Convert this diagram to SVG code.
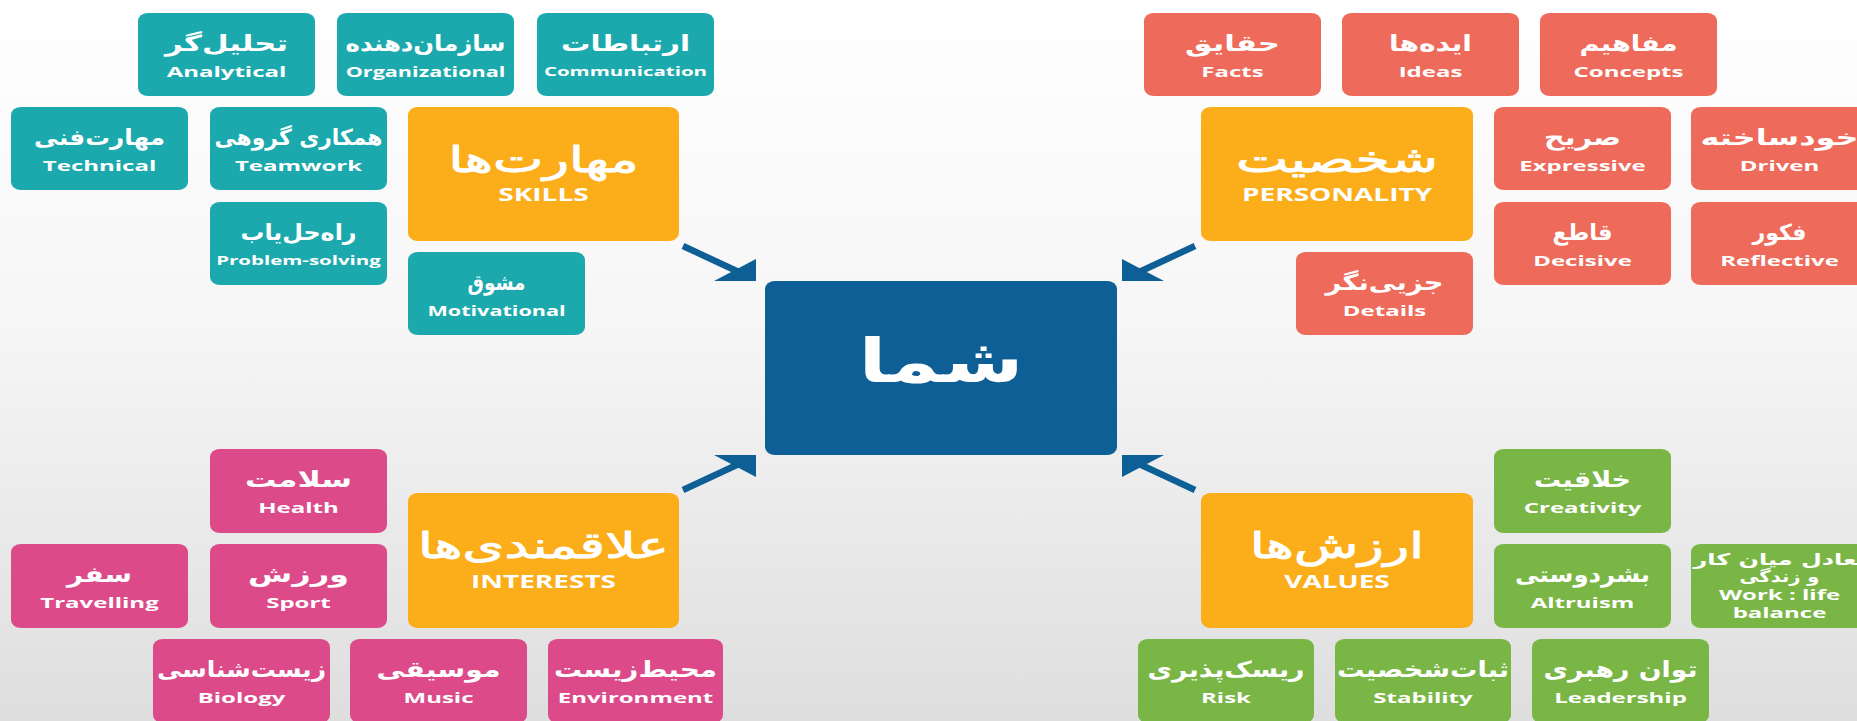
<svg xmlns="http://www.w3.org/2000/svg" width="1857" height="721" viewBox="0 0 1857 721">
  <defs>
    <linearGradient id="bg" x1="0" y1="0" x2="0" y2="1">
      <stop offset="0" stop-color="#ffffff"/>
      <stop offset="0.45" stop-color="#f6f6f6"/>
      <stop offset="1" stop-color="#dedede"/>
    </linearGradient>
    <!-- arrow pointing down-right, tip at the origin -->
    <g id="arrow">
      <line class="shaft" x1="-73" y1="-34" x2="-15" y2="-7"/>
      <polygon class="head" points="0,1 -42,1 0,-21"/>
    </g>
    <style>
      .b { rx: 10px; ry: 8px; }
      .teal { fill: #1ba9ad; }
      .salmon { fill: #ee6a5a; }
      .pink { fill: #dc4a8a; }
      .green { fill: #7ab646; }
      .orange { fill: #fbad1a; }
      .core { fill: #0d5f95; }
      .shaft { stroke: #0d5f95; stroke-width: 6.5; }
      .head { fill: #0d5f95; }
      text { fill: #ffffff; text-anchor: middle; }
      .fa, .fa-big, .fa-s, .fa-core { font-family: "DejaVu Sans", "Noto Sans", sans-serif; font-weight: 700; }
      .fa { font-size: 22px; }
      .fa-big { font-size: 36px; font-weight: 400; stroke: #ffffff; stroke-width: 0.9; }
      .fa-s { font-size: 16px; }
      .fa-core { font-size: 60px; }
      .en, .en-m, .en-s, .en-big { font-family: "Open Sans", "Liberation Sans", sans-serif; font-weight: 700; }
      .en { font-size: 15px; }
      .en-m { font-size: 13.5px; }
      .en-s { font-size: 12.8px; }
      .en-big { font-size: 17.5px; }
    </style>
  </defs>

  <rect x="0" y="0" width="1857" height="721" fill="url(#bg)"/>

  <!-- connectors: four arrows pointing into the centre box -->
  <g id="connectors">
    <use href="#arrow" transform="translate(756 280)"/>
    <use href="#arrow" transform="translate(1122 280) scale(-1 1)"/>
    <use href="#arrow" transform="translate(756 456) scale(1 -1)"/>
    <use href="#arrow" transform="translate(1122 456) scale(-1 -1)"/>
  </g>

  <!-- centre -->
  <g id="you" transform="translate(765 281)">
    <rect class="b core" width="352" height="174"/>
    <text class="fa-core" x="176" y="101" textLength="165" lengthAdjust="spacingAndGlyphs">شما</text>
  </g>

  <!-- skills (top left) -->
  <g id="skills" transform="translate(408 107)">
    <rect class="b orange" width="271" height="134"/>
    <text class="fa-big" x="135.5" y="65" textLength="190" lengthAdjust="spacingAndGlyphs">مهارت&#x200C;ها</text>
    <text class="en-big" transform="translate(135.5 94) scale(1.6 1)">SKILLS</text>
  </g>
  <g id="skill-analytical" transform="translate(138 13)">
    <rect class="b teal" width="177" height="83"/>
    <text class="fa" x="88.5" y="38" textLength="123" lengthAdjust="spacingAndGlyphs">تحلیل&#x200C;گر</text>
    <text class="en" transform="translate(88.5 64) scale(1.6 1)">Analytical</text>
  </g>
  <g id="skill-organizational" transform="translate(337 13)">
    <rect class="b teal" width="177" height="83"/>
    <text class="fa" x="88.5" y="38" textLength="160" lengthAdjust="spacingAndGlyphs">سازمان&#x200C;دهنده</text>
    <text class="en-m" transform="translate(88.5 64) scale(1.6 1)">Organizational</text>
  </g>
  <g id="skill-communication" transform="translate(537 13)">
    <rect class="b teal" width="177" height="83"/>
    <text class="fa" x="88.5" y="38" textLength="129" lengthAdjust="spacingAndGlyphs">ارتباطات</text>
    <text class="en-s" transform="translate(88.5 63) scale(1.6 1)">Communication</text>
  </g>
  <g id="skill-technical" transform="translate(11 107)">
    <rect class="b teal" width="177" height="83"/>
    <text class="fa" x="88.5" y="38" textLength="131" lengthAdjust="spacingAndGlyphs">مهارت&#x200C;فنی</text>
    <text class="en" transform="translate(88.5 64) scale(1.6 1)">Technical</text>
  </g>
  <g id="skill-teamwork" transform="translate(210 107)">
    <rect class="b teal" width="177" height="83"/>
    <text class="fa" x="88.5" y="38" textLength="168" lengthAdjust="spacingAndGlyphs">همکاری گروهی</text>
    <text class="en" transform="translate(88.5 64) scale(1.6 1)">Teamwork</text>
  </g>
  <g id="skill-problem-solving" transform="translate(210 202)">
    <rect class="b teal" width="177" height="83"/>
    <text class="fa" x="88.5" y="38" textLength="116" lengthAdjust="spacingAndGlyphs">راه&#x200C;حل&#x200C;یاب</text>
    <text class="en-s" transform="translate(88.5 63) scale(1.6 1)">Problem-solving</text>
  </g>
  <g id="skill-motivational" transform="translate(408 252)">
    <rect class="b teal" width="177" height="83"/>
    <text class="fa" x="88.5" y="38" textLength="58" lengthAdjust="spacingAndGlyphs">مشوق</text>
    <text class="en-m" transform="translate(88.5 64) scale(1.6 1)">Motivational</text>
  </g>

  <!-- personality (top right) -->
  <g id="personality" transform="translate(1201 107)">
    <rect class="b orange" width="272" height="134"/>
    <text class="fa-big" x="136" y="65" textLength="202" lengthAdjust="spacingAndGlyphs">شخصیت</text>
    <text class="en-big" transform="translate(136 94) scale(1.6 1)">PERSONALITY</text>
  </g>
  <g id="pers-facts" transform="translate(1144 13)">
    <rect class="b salmon" width="177" height="83"/>
    <text class="fa" x="88.5" y="38" textLength="95" lengthAdjust="spacingAndGlyphs">حقایق</text>
    <text class="en" transform="translate(88.5 64) scale(1.6 1)">Facts</text>
  </g>
  <g id="pers-ideas" transform="translate(1342 13)">
    <rect class="b salmon" width="177" height="83"/>
    <text class="fa" x="88.5" y="38" textLength="83" lengthAdjust="spacingAndGlyphs">ایده&#x200C;ها</text>
    <text class="en" transform="translate(88.5 64) scale(1.6 1)">Ideas</text>
  </g>
  <g id="pers-concepts" transform="translate(1540 13)">
    <rect class="b salmon" width="177" height="83"/>
    <text class="fa" x="88.5" y="38" textLength="98" lengthAdjust="spacingAndGlyphs">مفاهیم</text>
    <text class="en" transform="translate(88.5 64) scale(1.6 1)">Concepts</text>
  </g>
  <g id="pers-expressive" transform="translate(1494 107)">
    <rect class="b salmon" width="177" height="83"/>
    <text class="fa" x="88.5" y="38" textLength="77" lengthAdjust="spacingAndGlyphs">صریح</text>
    <text class="en" transform="translate(88.5 64) scale(1.6 1)">Expressive</text>
  </g>
  <g id="pers-driven" transform="translate(1691 107)">
    <rect class="b salmon" width="177" height="83"/>
    <text class="fa" x="88.5" y="38" textLength="158" lengthAdjust="spacingAndGlyphs">خودساخته</text>
    <text class="en" transform="translate(88.5 64) scale(1.6 1)">Driven</text>
  </g>
  <g id="pers-decisive" transform="translate(1494 202)">
    <rect class="b salmon" width="177" height="83"/>
    <text class="fa" x="88.5" y="38" textLength="60" lengthAdjust="spacingAndGlyphs">قاطع</text>
    <text class="en" transform="translate(88.5 64) scale(1.6 1)">Decisive</text>
  </g>
  <g id="pers-reflective" transform="translate(1691 202)">
    <rect class="b salmon" width="177" height="83"/>
    <text class="fa" x="88.5" y="38" textLength="54" lengthAdjust="spacingAndGlyphs">فکور</text>
    <text class="en" transform="translate(88.5 64) scale(1.6 1)">Reflective</text>
  </g>
  <g id="pers-details" transform="translate(1296 252)">
    <rect class="b salmon" width="177" height="83"/>
    <text class="fa" x="88.5" y="38" textLength="118" lengthAdjust="spacingAndGlyphs">جزیی&#x200C;نگر</text>
    <text class="en" transform="translate(88.5 64) scale(1.6 1)">Details</text>
  </g>

  <!-- interests (bottom left) -->
  <g id="interests" transform="translate(408 493)">
    <rect class="b orange" width="271" height="135"/>
    <text class="fa-big" x="135.5" y="65" textLength="251" lengthAdjust="spacingAndGlyphs">علاقمندی&#x200C;ها</text>
    <text class="en-big" transform="translate(135.5 95) scale(1.6 1)">INTERESTS</text>
  </g>
  <g id="int-health" transform="translate(210 449)">
    <rect class="b pink" width="177" height="84"/>
    <text class="fa" x="88.5" y="38" textLength="107" lengthAdjust="spacingAndGlyphs">سلامت</text>
    <text class="en" transform="translate(88.5 64) scale(1.6 1)">Health</text>
  </g>
  <g id="int-travelling" transform="translate(11 544)">
    <rect class="b pink" width="177" height="84"/>
    <text class="fa" x="88.5" y="38" textLength="65" lengthAdjust="spacingAndGlyphs">سفر</text>
    <text class="en" transform="translate(88.5 64) scale(1.6 1)">Travelling</text>
  </g>
  <g id="int-sport" transform="translate(210 544)">
    <rect class="b pink" width="177" height="84"/>
    <text class="fa" x="88.5" y="38" textLength="101" lengthAdjust="spacingAndGlyphs">ورزش</text>
    <text class="en" transform="translate(88.5 64) scale(1.6 1)">Sport</text>
  </g>
  <g id="int-biology" transform="translate(153 639)">
    <rect class="b pink" width="177" height="84"/>
    <text class="fa" x="88.5" y="38" textLength="169" lengthAdjust="spacingAndGlyphs">زیست&#x200C;شناسی</text>
    <text class="en" transform="translate(88.5 64) scale(1.6 1)">Biology</text>
  </g>
  <g id="int-music" transform="translate(350 639)">
    <rect class="b pink" width="177" height="84"/>
    <text class="fa" x="88.5" y="38" textLength="124" lengthAdjust="spacingAndGlyphs">موسیقی</text>
    <text class="en" transform="translate(88.5 64) scale(1.6 1)">Music</text>
  </g>
  <g id="int-environment" transform="translate(548 639)">
    <rect class="b pink" width="175" height="84"/>
    <text class="fa" x="87.5" y="38" textLength="163" lengthAdjust="spacingAndGlyphs">محیط&#x200C;زیست</text>
    <text class="en" transform="translate(87.5 64) scale(1.6 1)">Environment</text>
  </g>

  <!-- values (bottom right) -->
  <g id="values" transform="translate(1201 493)">
    <rect class="b orange" width="272" height="135"/>
    <text class="fa-big" x="136" y="65" textLength="174" lengthAdjust="spacingAndGlyphs">ارزش&#x200C;ها</text>
    <text class="en-big" transform="translate(136 95) scale(1.6 1)">VALUES</text>
  </g>
  <g id="val-creativity" transform="translate(1494 449)">
    <rect class="b green" width="177" height="84"/>
    <text class="fa" x="88.5" y="38" textLength="97" lengthAdjust="spacingAndGlyphs">خلاقیت</text>
    <text class="en" transform="translate(88.5 64) scale(1.6 1)">Creativity</text>
  </g>
  <g id="val-altruism" transform="translate(1494 544)">
    <rect class="b green" width="177" height="84"/>
    <text class="fa" x="88.5" y="38" textLength="135" lengthAdjust="spacingAndGlyphs">بشردوستی</text>
    <text class="en" transform="translate(88.5 64) scale(1.6 1)">Altruism</text>
  </g>
  <g id="val-work-life" transform="translate(1691 544)">
    <rect class="b green" width="177" height="84"/>
    <text class="fa-s" x="88.5" y="21" textLength="172" lengthAdjust="spacingAndGlyphs">تعادل میان کار</text>
    <text class="fa-s" x="88.5" y="38" textLength="80" lengthAdjust="spacingAndGlyphs">و زندگی</text>
    <text class="en" transform="translate(88.5 56) scale(1.6 1)">Work : life</text>
    <text class="en" transform="translate(88.5 74) scale(1.6 1)">balance</text>
  </g>
  <g id="val-risk" transform="translate(1138 639)">
    <rect class="b green" width="176" height="84"/>
    <text class="fa" x="88" y="38" textLength="157" lengthAdjust="spacingAndGlyphs">ریسک&#x200C;پذیری</text>
    <text class="en" transform="translate(88 64) scale(1.6 1)">Risk</text>
  </g>
  <g id="val-stability" transform="translate(1335 639)">
    <rect class="b green" width="176" height="84"/>
    <text class="fa" x="88" y="38" textLength="172" lengthAdjust="spacingAndGlyphs">ثبات&#x200C;شخصیت</text>
    <text class="en" transform="translate(88 64) scale(1.6 1)">Stability</text>
  </g>
  <g id="val-leadership" transform="translate(1532 639)">
    <rect class="b green" width="177" height="84"/>
    <text class="fa" x="88.5" y="38" textLength="154" lengthAdjust="spacingAndGlyphs">توان رهبری</text>
    <text class="en" transform="translate(88.5 64) scale(1.6 1)">Leadership</text>
  </g>
</svg>
